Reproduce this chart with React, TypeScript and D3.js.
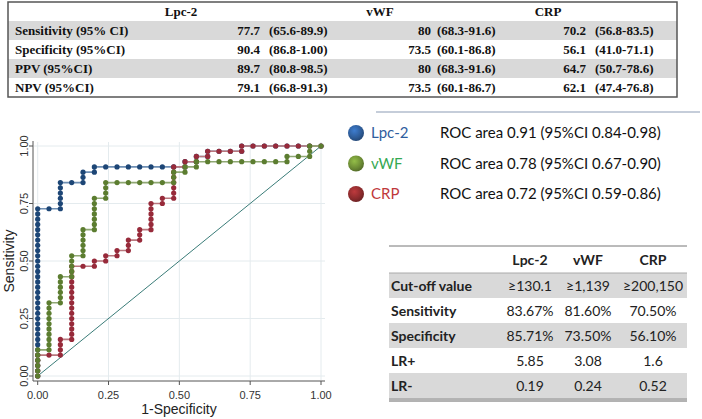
import React from "react";
import * as d3 from "d3";

// ROC points as counts: [false positives (of 25 controls), true positives (of 44 cases)]
const N_NEG = 25;
const N_POS = 44;

const lpcPoints: [number, number][] = [
  [0, 0], [0, 1], [0, 2], [0, 3], [0, 4], [0, 5], [0, 6], [0, 7], [0, 8], [0, 9], [0, 10],
  [0, 11], [0, 12], [0, 13], [0, 14], [0, 15], [0, 16], [0, 17], [0, 18], [0, 19], [0, 20],
  [0, 21], [0, 22], [0, 23], [0, 24], [0, 25], [0, 26], [0, 27], [0, 28], [0, 29], [0, 30],
  [0, 31], [0, 32], [1, 32], [2, 32], [2, 33], [2, 34], [2, 35], [2, 36], [2, 37], [3, 37],
  [4, 37], [4, 38], [4, 39], [5, 39], [5, 40], [6, 40], [7, 40], [8, 40], [9, 40], [10, 40],
  [11, 40], [12, 40], [13, 40], [13, 41], [14, 41], [14, 42], [15, 42], [15, 43], [16, 43],
  [17, 43], [18, 43], [18, 44], [19, 44], [20, 44], [21, 44], [22, 44], [23, 44], [24, 44], [25, 44],
];

const vwfPoints: [number, number][] = [
  [0, 0], [0, 1], [0, 2], [0, 3], [0, 4], [0, 5], [1, 5], [1, 6], [1, 7], [1, 8], [1, 9],
  [1, 10], [1, 11], [1, 12], [1, 13], [1, 14], [2, 14], [2, 15], [2, 16], [2, 17], [2, 18],
  [2, 19], [3, 19], [3, 20], [3, 21], [3, 22], [3, 23], [4, 23], [4, 24], [4, 25], [4, 26],
  [4, 27], [4, 28], [5, 28], [5, 29], [5, 30], [5, 31], [5, 32], [5, 33], [5, 34], [6, 34],
  [6, 35], [6, 36], [6, 37], [7, 37], [8, 37], [9, 37], [10, 37], [11, 37], [12, 37], [12, 38],
  [12, 39], [13, 39], [13, 40], [14, 40], [14, 41], [15, 41], [16, 41], [17, 41], [18, 41],
  [19, 41], [20, 41], [21, 41], [22, 41], [22, 42], [23, 42], [24, 42], [24, 43], [24, 44], [25, 44],
];

const crpPoints: [number, number][] = [
  [0, 0], [0, 1], [0, 2], [0, 3], [0, 4], [1, 4], [2, 4], [2, 5], [2, 6], [2, 7], [3, 7],
  [3, 8], [3, 9], [3, 10], [3, 11], [3, 12], [3, 13], [3, 14], [3, 15], [3, 16], [3, 17],
  [3, 18], [3, 19], [3, 20], [3, 21], [4, 21], [5, 21], [5, 22], [6, 22], [6, 23], [7, 23],
  [7, 24], [8, 24], [8, 25], [8, 26], [9, 26], [9, 27], [9, 28], [10, 28], [10, 29], [10, 30],
  [10, 31], [10, 32], [10, 33], [11, 33], [11, 34], [12, 34], [12, 35], [12, 36], [12, 37],
  [12, 38], [12, 39], [12, 40], [13, 40], [13, 41], [14, 41], [14, 42], [15, 42], [15, 43],
  [16, 43], [17, 43], [18, 43], [18, 44], [19, 44], [20, 44], [21, 44], [22, 44], [23, 44],
  [24, 44], [25, 44],
];

const axisTicks = [0, 0.25, 0.5, 0.75, 1];
const tickLabels = ["0.00", "0.25", "0.50", "0.75", "1.00"];

const topHeaders = ["Lpc-2", "vWF", "CRP"];
const topRowLabels = ["Sensitivity (95% CI)", "Specificity (95%CI)", "PPV (95%CI)", "NPV (95%CI)"];
const topValues = [
  ["77.7", "80", "70.2"],
  ["90.4", "73.5", "56.1"],
  ["89.7", "80", "64.7"],
  ["79.1", "73.5", "62.1"],
];
const topCIs = [
  ["(65.6-89.9)", "(68.3-91.6)", "(56.8-83.5)"],
  ["(86.8-1.00)", "(60.1-86.8)", "(41.0-71.1)"],
  ["(80.8-98.5)", "(68.3-91.6)", "(50.7-78.6)"],
  ["(66.8-91.3)", "(60.1-86.7)", "(47.4-76.8)"],
];

const legendNames = ["Lpc-2", "vWF", "CRP"];
const legendAreas = [
  "ROC area 0.91 (95%CI 0.84-0.98)",
  "ROC area 0.78 (95%CI 0.67-0.90)",
  "ROC area 0.72 (95%CI 0.59-0.86)",
];

const bottomHeaders = ["Lpc-2", "vWF", "CRP"];
const bottomRowLabels = ["Cut-off value", "Sensitivity", "Specificity", "LR+", "LR-"];
const cutoffValues = ["≥130.1", "≥1,139", "≥200,150"];
const bottomValues = [
  ["83.67%", "81.60%", "70.50%"],
  ["85.71%", "73.50%", "56.10%"],
  ["5.85", "3.08", "1.6"],
  ["0.19", "0.24", "0.52"],
];

const series = [
  { key: "lpc", pts: lpcPoints, dot: "#1d4676", line: "#6f8fb3" },
  { key: "crp", pts: crpPoints, dot: "#972a3a", line: "#b9777e" },
  { key: "vwf", pts: vwfPoints, dot: "#5c7d30", line: "#8fa873" },
];

const legendStyle = [
  { circle: "#2d5b96", text: "#2f5d9e" },
  { circle: "#6b8a34", text: "#35a852" },
  { circle: "#8a2a2c", text: "#c0393b" },
];

export default function App() {
  const x = d3.scaleLinear().domain([0, 1]).range([37.7, 321]);
  const y = d3.scaleLinear().domain([0, 1]).range([376, 146]);
  const line = d3
    .line<[number, number]>()
    .x((d) => x(d[0] / N_NEG))
    .y((d) => y(d[1] / N_POS));

  // top table layout
  const tX0 = 8, tX1 = 677, tY0 = 2, rowH = 19;
  const hdrX = [181, 380, 548];
  const valRight = [260, 431, 586];
  const ciLeft = [269, 437, 595];

  // legend layout
  const legY = d3.scalePoint<number>().domain([0, 1, 2]).range([133, 194]);

  // bottom table layout
  const bX0 = 389, bX1 = 687, bHdrY = 248, bRowY0 = 273, bRowH = 25;
  const colX = [530, 588, 653];

  const serif = "'Liberation Serif', 'Times New Roman', serif";
  const sans = "'Liberation Sans', Arial, sans-serif";
  const cal = "Lato, 'Open Sans', sans-serif";

  return (
    <svg
      width={702}
      height={419}
      style={{ position: "absolute", left: 0, top: 0, background: "#fff" }}
    >
      <defs>
        {legendStyle.map((s, i) => (
          <radialGradient key={i} id={`lg${i}`} cx="40%" cy="35%" r="65%">
            <stop offset="0%" stopColor={d3.color(s.circle)!.brighter(0.9).toString()} />
            <stop offset="70%" stopColor={s.circle} />
            <stop offset="100%" stopColor={d3.color(s.circle)!.darker(0.6).toString()} />
          </radialGradient>
        ))}
      </defs>

      {/* ---------- Top table ---------- */}
      <g fontFamily={serif} fontWeight="bold" fontSize={13} fill="#111">
        {topRowLabels.map((_, i) =>
          i % 2 === 0 ? (
            <rect key={i} x={tX0} y={tY0 + rowH * (i + 1)} width={tX1 - tX0} height={rowH} fill="#d9d9d9" />
          ) : null
        )}
        <rect x={tX0} y={tY0} width={tX1 - tX0} height={rowH * 5} fill="none" stroke="#555" strokeWidth={1.5} />
        {topHeaders.map((h, j) => (
          <text key={h} x={hdrX[j]} y={tY0 + rowH * 0.5 + 4.5} textAnchor="middle">
            {h}
          </text>
        ))}
        {topRowLabels.map((lab, i) => {
          const cy = tY0 + rowH * (i + 1.5) + 4.5;
          return (
            <g key={lab}>
              <text x={15} y={cy}>{lab}</text>
              {topValues[i].map((v, j) => (
                <text key={j} x={valRight[j]} y={cy} textAnchor="end">{v}</text>
              ))}
              {topCIs[i].map((c, j) => (
                <text key={j} x={ciLeft[j]} y={cy}>{c}</text>
              ))}
            </g>
          );
        })}
      </g>

      {/* ---------- ROC plot ---------- */}
      <g>
        {axisTicks.map((t) => (
          <g key={`g${t}`} stroke="#e4ebee" strokeWidth={1}>
            <line x1={x(t)} x2={x(t)} y1={142} y2={380} />
            <line x1={34} x2={325} y1={y(t)} y2={y(t)} />
          </g>
        ))}
        <line x1={33} x2={33} y1={141} y2={381} stroke="#555" strokeWidth={1} />
        <line x1={33} x2={325} y1={381} y2={381} stroke="#555" strokeWidth={1} />
        {axisTicks.map((t, i) => (
          <g key={`t${t}`} fontFamily={sans} fontSize={11} fill="#333">
            <line x1={29} x2={33} y1={y(t)} y2={y(t)} stroke="#555" />
            <text transform={`translate(28,${y(t)}) rotate(-90)`} textAnchor="middle">
              {tickLabels[i]}
            </text>
            <line x1={x(t)} x2={x(t)} y1={381} y2={385} stroke="#555" />
            <text x={x(t)} y={399} textAnchor="middle">
              {tickLabels[i]}
            </text>
          </g>
        ))}
        <text x={179} y={414} textAnchor="middle" fontFamily={sans} fontSize={14} fill="#222">
          1-Specificity
        </text>
        <text
          transform={`translate(14,${y(0.5)}) rotate(-90)`}
          textAnchor="middle"
          fontFamily={sans}
          fontSize={14}
          fill="#222"
        >
          Sensitivity
        </text>
        <line x1={x(0)} y1={y(0)} x2={x(1)} y2={y(1)} stroke="#3a7c78" strokeWidth={1} />
        {series.map((s) => (
          <g key={s.key}>
            <path d={line(s.pts) || ""} fill="none" stroke={s.line} strokeWidth={1.6} />
            {s.pts.map((p, i) => (
              <circle key={i} cx={x(p[0] / N_NEG)} cy={y(p[1] / N_POS)} r={2.6} fill={s.dot} />
            ))}
          </g>
        ))}
      </g>

      {/* ---------- Legend ---------- */}
      <line x1={376} x2={700} y1={112} y2={112} stroke="#8b9bb4" strokeWidth={1} />
      {legendNames.map((n, i) => (
        <g key={n} fontFamily={cal} fontSize={15}>
          <circle cx={356} cy={legY(i)!} r={8} fill={`url(#lg${i})`} />
          <text x={371} y={legY(i)! + 5} fill={legendStyle[i].text}>{n}</text>
          <text x={440} y={legY(i)! + 5} fill="#111">{legendAreas[i]}</text>
        </g>
      ))}

      {/* ---------- Bottom table ---------- */}
      <g fontFamily={cal} fontSize={14} fill="#222">
        {bottomRowLabels.map((_, i) =>
          i % 2 === 0 ? (
            <rect key={i} x={bX0} y={bRowY0 + i * bRowH} width={bX1 - bX0} height={bRowH} fill="#d9d9d9" />
          ) : null
        )}
        <line x1={bX0} x2={bX1} y1={bHdrY - 2} y2={bHdrY - 2} stroke="#777" />
        <line x1={bX0} x2={bX1} y1={bRowY0} y2={bRowY0} stroke="#aaa" />
        <line x1={bX0} x2={bX1} y1={bRowY0 + 5 * bRowH + 1} y2={bRowY0 + 5 * bRowH + 1} stroke="#666" />
        <line x1={bX0} x2={bX1} y1={bRowY0 + 5 * bRowH + 3} y2={bRowY0 + 5 * bRowH + 3} stroke="#666" />
        {bottomHeaders.map((h, j) => (
          <text key={h} x={colX[j]} y={bHdrY + 17} textAnchor="middle" fontWeight="bold">
            {h}
          </text>
        ))}
        {bottomRowLabels.map((lab, i) => {
          const cy = bRowY0 + i * bRowH + bRowH / 2 + 5;
          const vals = i === 0 ? cutoffValues : bottomValues[i - 1];
          return (
            <g key={lab}>
              <text x={391} y={cy} fontWeight="bold">{lab}</text>
              {vals.map((v, j) => (
                <text key={j} x={colX[j]} y={cy} textAnchor="middle">{v}</text>
              ))}
            </g>
          );
        })}
      </g>
    </svg>
  );
}
